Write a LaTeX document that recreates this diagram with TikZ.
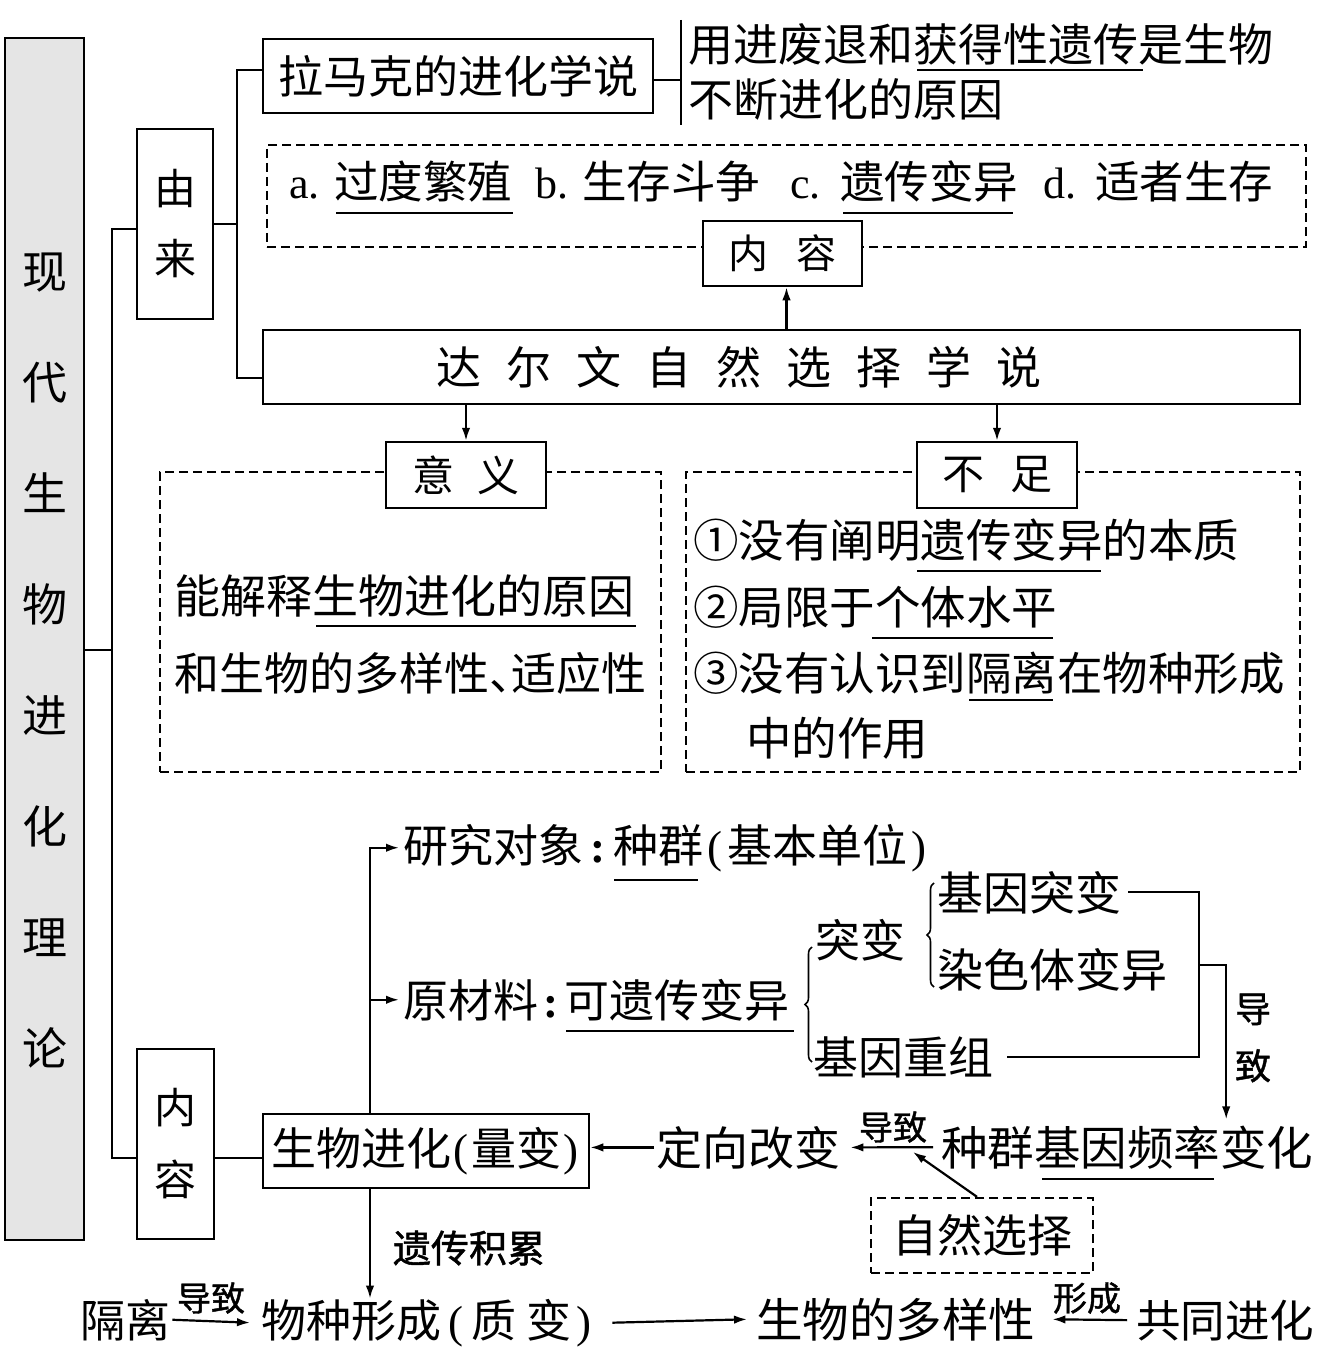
\documentclass[tikz,border=0pt]{standalone}
\usepackage{fontspec}
\setmainfont{Noto Sans CJK SC}
\newfontfamily\lat{Liberation Serif}
\newfontfamily\cjkb[FakeBold=1.2]{Noto Sans CJK SC}
\usetikzlibrary{arrows.meta,decorations.pathreplacing}
\newcommand\fs[1]{\fontsize{#1}{#1}\selectfont}
\newcommand\gapA{\hspace{25pt}}
\tikzset{
  bx/.style={draw, line width=2.5pt, fill=white, inner sep=0pt},
  dbx/.style={draw, line width=2.3pt, dash pattern=on 9pt off 5pt, inner sep=0pt},
  ln/.style={line width=2.2pt},
  ar/.style={line width=2.2pt, -{Latex[length=13pt,width=8.5pt]}},
  tx/.style={inner sep=0pt, anchor=base west, font=\fs{45}},
  lb/.style={inner sep=0pt, font=\cjkb\fs{34}},
  ul/.style={line width=2.6pt},
  brc/.style={line width=1.6pt, decorate, decoration={brace, amplitude=7pt}},
}
\begin{document}
\begin{tikzpicture}[x=1pt,y=-1pt]
\fill[white] (0,0) rectangle (1316,1348);
\useasboundingbox (0,0) rectangle (1316,1348);

% ---------- left column ----------
\node[bx, fill=black!10, minimum width=79pt, minimum height=1202pt] (gray) at (44.5,639) {};
\node[align=center, inner sep=0pt, font=\fontsize{45}{111}\selectfont] (graytxt) at (45,661)
  {现\\代\\生\\物\\进\\化\\理\\论};

\node[bx, minimum width=76pt, minimum height=190pt, align=center, font=\fontsize{42}{70}\selectfont] (yl) at (175,224) {由\\来};
\node[bx, minimum width=77pt, minimum height=190pt, align=center, font=\fontsize{42}{72}\selectfont] (nr2) at (175.5,1144) {内\\容};

\coordinate (mj) at (112,650);
\draw[ln] (gray.east |- mj) -- (mj);
\draw[ln] ([yshift=-5pt]yl.west) -| (mj);
\draw[ln] (mj) |- ([yshift=-14pt]nr2.west);

% ---------- top : Lamarck ----------
\node[bx, minimum width=390pt, minimum height=74pt, font=\fs{45}] (lmk) at (458,76) {拉马克的进化学说};
\coordinate (bt) at (681,20);
\coordinate (bb) at (681,125);
\draw[ln] (bt) -- (bb);
\draw[ln] ([yshift=-4pt]lmk.east) -- ([yshift=-4pt]lmk.east -| bt);
\node[tx] (lm1) at (688,62) {用进废退和获得性遗传是生物};
\node[tx] (lm2) at (688,117) {不断进化的原因};
\draw[ul] (917,70) -- (1143,70);

% ---------- Darwin content ----------
\node[dbx, minimum width=1039pt, minimum height=102pt] (con) at (786.5,196) {};
\node[tx, font=\lat\fs{44}] (la) at (289,199) {a.};
\node[tx, font=\fs{44.5}] (ta) at (334,199) {过度繁殖};
\node[tx, font=\lat\fs{44}] (lbb) at (535,199) {b.};
\node[tx, font=\fs{44.5}] (tb) at (582,199) {生存斗争};
\node[tx, font=\lat\fs{44}] (lc) at (790,199) {c.};
\node[tx, font=\fs{44.5}] (tc) at (840,199) {遗传变异};
\node[tx, font=\lat\fs{44}] (ld) at (1043,199) {d.};
\node[tx, font=\fs{44.5}] (td) at (1095,199) {适者生存};
\draw[ul] (336,213) -- (513,213);
\draw[ul] (843,213) -- (1013,213);

\node[bx, minimum width=159pt, minimum height=65pt, font=\fs{40}] (nr1) at (782.5,253.5) {内\hspace{28pt}容};

\coordinate (yj1) at (237,224);
\node[bx, minimum width=1037pt, minimum height=74pt] (dw) at (781.5,367) {};
\node[inner sep=0pt, font=\fs{45}] (dwt) at (739,367) {达\gapA 尔\gapA 文\gapA 自\gapA 然\gapA 选\gapA 择\gapA 学\gapA 说};

\draw[ln] (yl.east) -- (yj1);
\draw[ln] ([yshift=6pt]lmk.west) -| (yj1) |- ([yshift=-11pt]dw.west);
\draw[ar] ([xshift=4pt]dw.north -| nr1.south) -- ([xshift=4pt]nr1.south);

% ---------- significance / shortcomings ----------
\node[dbx, minimum width=501pt, minimum height=300pt] (dl) at (410.5,622) {};
\node[dbx, minimum width=614pt, minimum height=300pt] (dr) at (993,622) {};
\node[bx, minimum width=160pt, minimum height=66pt, font=\fs{42}] (yy) at (466,475) {意\hspace{24pt}义};
\node[bx, minimum width=160pt, minimum height=66pt, font=\fs{42}] (bz) at (997,475) {不\hspace{26pt}足};
\draw[ar] (dw.south -| yy.north) -- (yy.north);
\draw[ar] (dw.south -| bz.north) -- (bz.north);

\node[tx, font=\fs{46}] (d1) at (174,613) {能解释生物进化的原因};
\node[tx] (d2) at (174,690) {和生物的多样性\makebox[22pt][l]{、}适应性};
\draw[ul] (316,626) -- (636,626);

\node[tx, font=\fs{45.5}] (r1) at (693,557) {①没有阐明遗传变异的本质};
\node[tx, font=\fs{45.5}] (r2) at (693,624) {②局限于个体水平};
\node[tx, font=\fs{45.5}] (r3) at (693,690) {③没有认识到隔离在物种形成};
\node[tx, font=\fs{45.5}] (r4) at (746,755) {中的作用};
\draw[ul] (917,571) -- (1101,571);
\draw[ul] (872,638) -- (1053,638);
\draw[ul] (969,700) -- (1053,700);

% ---------- modern theory content ----------
\node[bx, minimum width=326pt, minimum height=74pt, font=\fs{45}] (sw) at (426,1151)
  {生物进化\makebox[20pt]{\lat (}量变\makebox[20pt]{\lat )}};
\draw[ln] ([yshift=-14pt]nr2.east) -- ([yshift=-14pt]nr2.east -| sw.west);

\node[tx] (yj) at (403,862) {研究对象\makebox[30pt]{\lat\bfseries :}种群\makebox[24pt]{\lat (}基本单位\makebox[24pt]{\lat )}};
\draw[ul] (614,880) -- (698,880);
\node[tx] (ycl) at (403,1017) {原材料\makebox[26pt]{\lat\bfseries :}可遗传变异};
\draw[ul] (566,1031) -- (794,1031);
\draw[ar] ([xshift=-56pt]sw.north) |- ([xshift=-4pt]yj.west);
\draw[ar] ([xshift=-56pt]sw.north |- ycl.west) -- ([xshift=-4pt]ycl.west);

\draw[brc] (812,1062) -- (812,947);
\node[tx] (tbn) at (815,957) {突变};
\node[tx] (jycz) at (813,1074) {基因重组};
\draw[brc] (934,987) -- (934,883);
\node[tx, font=\fs{46}] (jytb) at (937,910) {基因突变};
\node[tx, font=\fs{46}] (rsb) at (937,987) {染色体变异};

\node[tx, font=\fs{46.5}] (pgf) at (941,1165) {种群基因频率变化};
\draw[ul] (1042,1179) -- (1214,1179);

\coordinate (rx) at (1199,965);
\draw[ln] ([xshift=7pt]jytb.east) -| (rx) |- ([xshift=14pt]jycz.east);
\draw[ar] (rx) -| ([xshift=99pt,yshift=6pt]pgf.north);
\node[align=center, inner sep=0pt, font=\cjkb\fontsize{36}{57}\selectfont] (dz1) at (1253,1038) {导\\致};

\node[tx, font=\fs{46}] (dx) at (656,1165) {定向改变};
\draw[ar] ([xshift=-8pt]pgf.west) -- ([xshift=10pt]dx.east);
\node[lb] (dz2) at (893,1127) {导致};
\draw[ar] ([xshift=-2pt]dx.west) -- (sw.east |- dx.west);

\node[dbx, minimum width=222pt, minimum height=75pt, font=\fs{45}] (zr) at (982,1235.5) {自然选择};
\coordinate (dg) at (913,1152);
\draw[ar] ([xshift=-5pt]zr.north) -- (dg);

% ---------- bottom row ----------
\node[tx] (gl) at (80,1337) {隔离};
\node[tx] (wz) at (261,1337) {物种形成\makebox[30pt]{\lat (}质\hspace{10pt}变\makebox[25pt]{\lat )}};
\node[tx, font=\fs{46.5}] (dy) at (756,1337) {生物的多样性};
\node[tx, font=\fs{44.5}] (gt) at (1136,1337) {共同进化};
\node[inner sep=0pt, font=\cjkb\fs{38}] (yc) at (469,1248) {遗传积累};
\node[lb] (dz3) at (211,1298) {导致};
\node[lb] (xc) at (1087,1298) {形成};

\draw[ar] ([xshift=-56pt]sw.south) -- ([xshift=-56pt]sw.south |- wz.north);
\draw[ar] ([xshift=2pt]gl.east) -- ([xshift=-11pt]wz.west);
\draw[ar] ([xshift=16pt]wz.east) -- ([xshift=-9pt]dy.west);
\draw[ar] ([xshift=-9pt]gt.west) -- ([xshift=17pt]dy.east);
\end{tikzpicture}
\end{document}
